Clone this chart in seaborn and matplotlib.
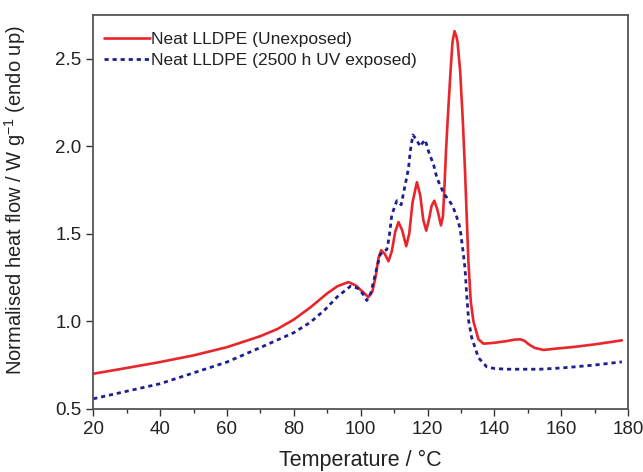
import matplotlib
matplotlib.use("Agg")
import matplotlib.pyplot as plt
import seaborn as sns
import pandas as pd
from matplotlib.ticker import MultipleLocator

# Unexposed LLDPE
temp_unexp = [20, 30, 40, 50, 60, 70, 75, 80, 85, 90, 93, 96.3, 98.5, 100.5, 102.3, 103.5,
              104.5, 105.3, 106.1, 107.2, 108.3, 109.3, 110.3, 111.3, 112.4, 113.6, 114.5,
              115.5, 116.8, 117.8, 118.7, 119.6, 120.5, 121.2, 122.0, 122.9, 124.0, 124.6,
              125.0, 125.5, 126.0, 126.85, 127.45, 128.05, 128.6, 128.95, 129.75, 130.55,
              131.2, 132.2, 132.9, 133.7, 135.2, 136.7, 140, 143.7, 146, 147.7, 149, 150.2,
              152, 154.7, 158, 163.6, 170, 175, 178.1]
hf_unexp = [0.70, 0.733, 0.767, 0.805, 0.852, 0.915, 0.955, 1.01, 1.08, 1.16, 1.20, 1.224,
            1.205, 1.17, 1.138, 1.17, 1.26, 1.36, 1.406, 1.385, 1.343, 1.40, 1.51, 1.567,
            1.52, 1.429, 1.50, 1.68, 1.795, 1.72, 1.58, 1.518, 1.59, 1.66, 1.689, 1.64,
            1.548, 1.60, 1.75, 1.97, 2.15, 2.426, 2.597, 2.658, 2.63, 2.597, 2.426, 2.14,
            1.856, 1.343, 1.115, 1.0, 0.897, 0.872, 0.877, 0.887, 0.895, 0.897, 0.888, 0.869,
            0.848, 0.836, 0.843, 0.853, 0.868, 0.882, 0.891]

# 2500 h UV exposed LLDPE
temp_exp = [20, 30, 40, 50, 60, 70, 80, 85, 89.4, 93, 96.9, 99, 100.5, 101.8, 103, 104.5,
            105.8, 106.8, 107.8, 108.5, 109.3, 110.8, 112.1, 113.3, 114.3, 114.8, 115.6,
            116.6, 117.8, 118.5, 119.3, 120.3, 121.8, 122.8, 124.8, 127.3, 128.5, 129.7,
            130.6, 131.2, 131.7, 132.3, 133.2, 135.2, 137.7, 140, 143.7, 150, 153.7, 160,
            163.6, 170, 178.1]
hf_exp = [0.557, 0.60, 0.643, 0.705, 0.767, 0.85, 0.935, 0.995, 1.068, 1.14, 1.20, 1.19,
          1.16, 1.119, 1.16, 1.28, 1.38, 1.40, 1.41, 1.48, 1.609, 1.689, 1.666, 1.78, 1.875,
          1.97, 2.065, 2.04, 1.999, 2.02, 2.037, 1.97, 1.894, 1.818, 1.732, 1.666, 1.61,
          1.533, 1.40, 1.30, 1.15, 1.0, 0.906, 0.792, 0.739, 0.73, 0.726, 0.726, 0.726,
          0.733, 0.739, 0.75, 0.768]

df_u = pd.DataFrame({"T": temp_unexp, "HF": hf_unexp})
df_e = pd.DataFrame({"T": temp_exp, "HF": hf_exp})

sns.set_style("ticks")
plt.rcParams["font.family"] = ["Liberation Sans", "DejaVu Sans"]

fig = plt.figure(figsize=(6.43, 4.72), dpi=100)
ax = fig.add_axes([0.145, 0.134, 0.832, 0.834])

sns.lineplot(data=df_u, x="T", y="HF", ax=ax, color="#e8262b", lw=1.9,
             label="Neat LLDPE (Unexposed)")
sns.lineplot(data=df_e, x="T", y="HF", ax=ax, color="#1f1f8f", lw=2.0,
             linestyle=(0, (1.5, 1.4)), label="Neat LLDPE (2500 h UV exposed)")

ax.set_xlim(20, 180)
ax.set_ylim(0.5, 2.75)
ax.xaxis.set_major_locator(MultipleLocator(20))
ax.xaxis.set_minor_locator(MultipleLocator(10))
ax.yaxis.set_major_locator(MultipleLocator(0.5))
ax.tick_params(axis="both", which="major", direction="out", length=5, width=1,
               labelsize=13.5, color="#333333", labelcolor="#222222")
ax.tick_params(axis="x", which="minor", direction="out", length=3, width=1,
               color="#333333")

for s in ax.spines.values():
    s.set_color("#555555")
    s.set_linewidth(1.3)

ax.set_xlabel("Temperature / °C", fontsize=15.5, labelpad=9, color="#222222")
ax.set_ylabel("Normalised heat flow / W g$^{\\mathregular{-1}}$ (endo up)", fontsize=14.5,
              color="#222222")
ax.yaxis.set_label_coords(-0.122, 0.53)

leg = ax.legend(loc="upper left", frameon=False, fontsize=12.5, handlelength=2.6,
                handletextpad=0.1, borderaxespad=0.0, labelspacing=0.35,
                bbox_to_anchor=(0.008, 0.975))
for t in leg.get_texts():
    t.set_color("#222222")

fig.savefig("out.png", dpi=100)
